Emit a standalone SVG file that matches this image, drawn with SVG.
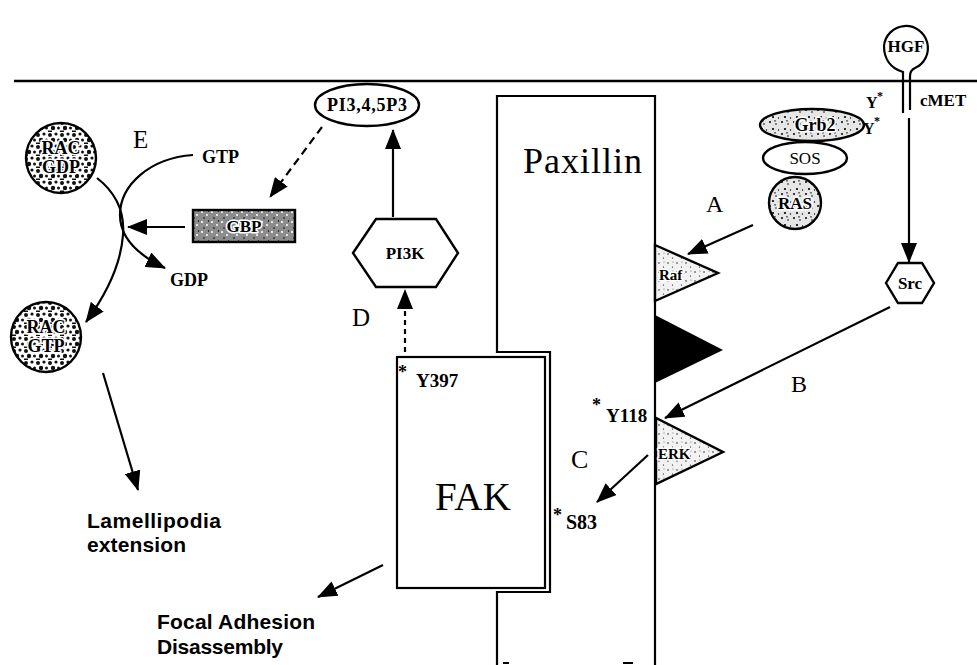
<svg xmlns="http://www.w3.org/2000/svg" width="977" height="665" viewBox="0 0 977 665">
<defs>
<style>
.ln{fill:none;stroke:#000;stroke-width:2.2}
.ar{fill:none;stroke:#000;stroke-width:2.2;marker-end:url(#ah)}
.sh{stroke:#000;stroke-width:2.4}
.t{font-family:"Liberation Serif","Times New Roman",serif;fill:#000}
.b{font-weight:bold}
.h{stroke:#fff;stroke-width:3;paint-order:stroke;stroke-linejoin:round}
.s{font-family:"Liberation Sans",Arial,sans-serif;font-weight:bold;fill:#000}
</style>
<marker id="ah" viewBox="0 0 20 16" refX="19" refY="8" markerWidth="20" markerHeight="16" orient="auto" markerUnits="userSpaceOnUse"><path d="M0,0 L20,8 L0,16 z" fill="#000"/></marker>
<pattern id="dk" width="12" height="12" patternUnits="userSpaceOnUse">
<rect width="12" height="12" fill="#fff"/>
<circle cx="2" cy="3" r="2" fill="#111"/><circle cx="8" cy="2" r="1.6" fill="#111"/>
<circle cx="5" cy="8" r="2.2" fill="#111"/><circle cx="10.5" cy="8" r="1.5" fill="#111"/>
<rect x="0" y="10.5" width="4" height="1.5" fill="#111"/>
</pattern>
<pattern id="md" width="12" height="12" patternUnits="userSpaceOnUse">
<rect width="12" height="12" fill="#e6e6e6"/>
<circle cx="2" cy="2" r="1" fill="#000"/><circle cx="8" cy="4" r="0.8" fill="#000"/>
<circle cx="5" cy="9" r="1.1" fill="#000"/><circle cx="10.5" cy="10" r="0.7" fill="#000"/>
<rect x="6" y="0.5" width="2" height="0.8" fill="#000"/>
</pattern>
<pattern id="gb" width="10" height="10" patternUnits="userSpaceOnUse">
<rect width="10" height="10" fill="#8c8c8c"/>
<circle cx="2" cy="2" r="1.1" fill="#fff"/><circle cx="7" cy="5" r="1" fill="#fff"/>
<circle cx="4" cy="8" r="0.8" fill="#000"/><circle cx="8.5" cy="1" r="0.7" fill="#000"/>
</pattern>
<pattern id="lt" width="9" height="9" patternUnits="userSpaceOnUse">
<rect width="9" height="9" fill="#f2f2f2"/>
<circle cx="2" cy="2" r="0.7" fill="#000"/><circle cx="6.5" cy="6" r="0.6" fill="#000"/>
<circle cx="7" cy="1" r="0.5" fill="#555"/>
</pattern>
</defs>
<rect width="977" height="665" fill="#fff"/>

<g id="membrane"><line x1="14" y1="81" x2="977" y2="81" stroke="#000" stroke-width="2.6"/></g>

<g id="paxillin">
<path class="ln" d="M497,665 L497,592 L550,592 L550,352 L497,352 L497,96 L655,96 L655,665"/>
<path class="ln" d="M503,663 L509,663 M623,663 L633,663" stroke-width="2"/>
<text class="t" x="523" y="173" font-size="36" textLength="119">Paxillin</text>
</g>

<g id="fak">
<rect x="397" y="357" width="148" height="231" fill="none" stroke="#000" stroke-width="2.2"/>
<text class="t" x="435" y="510" font-size="39" textLength="76">FAK</text>
<text class="t b" x="398" y="378" font-size="18">*</text>
<text class="t b" x="416" y="387" font-size="19">Y397</text>
</g>

<g id="raf"><path class="sh" d="M655,245 L655,301 L718,273 Z" fill="url(#lt)"/>
<text class="t b h" x="659" y="280" font-size="15">Raf</text></g>
<g id="blacktri"><path d="M655,315 L655,383 L723,350 Z" fill="#000"/></g>
<g id="erk"><path class="sh" d="M656,418 L656,484 L723,452 Z" fill="url(#lt)"/>
<text class="t b h" x="658" y="459" font-size="15">ERK</text></g>

<g id="y118"><text class="t b" x="592" y="411" font-size="18">*</text>
<text class="t b" x="606" y="422" font-size="19">Y118</text></g>
<g id="s83"><text class="t b" x="553" y="521" font-size="18">*</text>
<text class="t b" x="566" y="529" font-size="20">S83</text></g>

<g id="hgf">
<path class="ln" d="M903,80 L903,72 C890,68 884,58 884,46 A22,22 0 1 1 915,68 C911,70 910,72 910,76 L910,80"/>
<text class="t b" x="906" y="52" font-size="17" text-anchor="middle">HGF</text>
</g>
<g id="cmet">
<path class="ln" d="M903,80 L903,113 M910,80 L910,110"/>
<text class="t b" x="920" y="106" font-size="17">cMET</text>
<text class="t b" x="866" y="108" font-size="16">Y</text><text class="t b" x="877" y="100" font-size="12">*</text>
<text class="t b" x="863" y="134" font-size="16">Y</text><text class="t b" x="874" y="125" font-size="12">*</text>
</g>
<g id="grb2"><ellipse cx="812" cy="125" rx="52" ry="16" class="sh" fill="url(#md)"/>
<text class="t b h" x="815" y="131" font-size="18" text-anchor="middle">Grb2</text></g>
<g id="sos"><ellipse cx="805" cy="158" rx="42" ry="16" class="sh" fill="#fff"/>
<text class="t" x="805" y="164" font-size="17" text-anchor="middle">SOS</text></g>
<g id="ras"><circle cx="795" cy="203" r="26" class="sh" fill="url(#md)"/>
<text class="t b h" x="795" y="209" font-size="17" text-anchor="middle">RAS</text></g>
<g id="src"><path class="sh" d="M886,283 L898,263 L922,263 L934,283 L922,303 L898,303 Z" fill="#fff"/>
<text class="t b" x="910" y="289" font-size="17" text-anchor="middle">Src</text></g>

<g id="pi3k"><path class="sh" d="M353,253 L376,219 L436,219 L458,253 L436,287 L376,287 Z" fill="#fff"/>
<text class="t b" x="405" y="259" font-size="17" text-anchor="middle">PI3K</text></g>
<g id="pip3"><ellipse cx="367" cy="105" rx="52" ry="21" class="sh" fill="#fff"/>
<text class="t b" x="367" y="111" font-size="18" text-anchor="middle" textLength="80">PI3,4,5P3</text></g>
<g id="gbp"><rect x="193" y="210" width="102" height="32" class="sh" fill="url(#gb)"/>
<text class="t b h" x="244" y="232" font-size="17" text-anchor="middle">GBP</text></g>

<g id="racgdp"><circle cx="61" cy="158" r="35" class="sh" fill="url(#dk)"/>
<text class="t b h" x="61" y="154" font-size="18" text-anchor="middle">RAC</text>
<text class="t b h" x="61" y="173" font-size="18" text-anchor="middle">GDP</text></g>
<g id="racgtp"><circle cx="46" cy="337" r="35" class="sh" fill="url(#dk)"/>
<text class="t b h" x="46" y="333" font-size="18" text-anchor="middle">RAC</text>
<text class="t b h" x="46" y="352" font-size="18" text-anchor="middle">GTP</text></g>

<g id="labels">
<text class="t" x="133" y="148" font-size="25">E</text>
<text class="t b" x="202" y="163" font-size="18">GTP</text>
<text class="t b" x="170" y="286" font-size="18">GDP</text>
<text class="t" x="706" y="212" font-size="24">A</text>
<text class="t" x="791" y="392" font-size="24">B</text>
<text class="t" x="571" y="468" font-size="26">C</text>
<text class="t" x="352" y="326" font-size="25">D</text>
<text class="s" x="87" y="528" font-size="21" textLength="134">Lamellipodia</text>
<text class="s" x="87" y="552" font-size="21" textLength="99">extension</text>
<text class="s" x="157" y="629" font-size="21" textLength="158">Focal Adhesion</text>
<text class="s" x="157" y="654" font-size="21" textLength="126">Disassembly</text>
</g>

<g id="connectors">
<path class="ar" d="M909,118 L909,262"/>
<path class="ar" d="M753,225 L688,254"/>
<path class="ar" d="M890,307 L665,418"/>
<path class="ar" d="M648,455 L597,502"/>
<path class="ar" d="M383,565 L318,597"/>
<path class="ar" d="M405,352 L405,290" stroke-dasharray="5,4"/>
<path class="ar" d="M393,217 L393,130"/>
<path class="ar" d="M322,127 L270,197" stroke-dasharray="8,5"/>
<path class="ar" d="M185,227 L128,227"/>
<path class="ar" d="M193,155 C150,158 120,185 120,215 C120,240 140,256 165,268"/>
<path class="ar" d="M97,178 C115,192 125,210 123,235 C121,262 108,292 86,322"/>
<path class="ar" d="M103,373 L138,490"/>
</g>
</svg>
